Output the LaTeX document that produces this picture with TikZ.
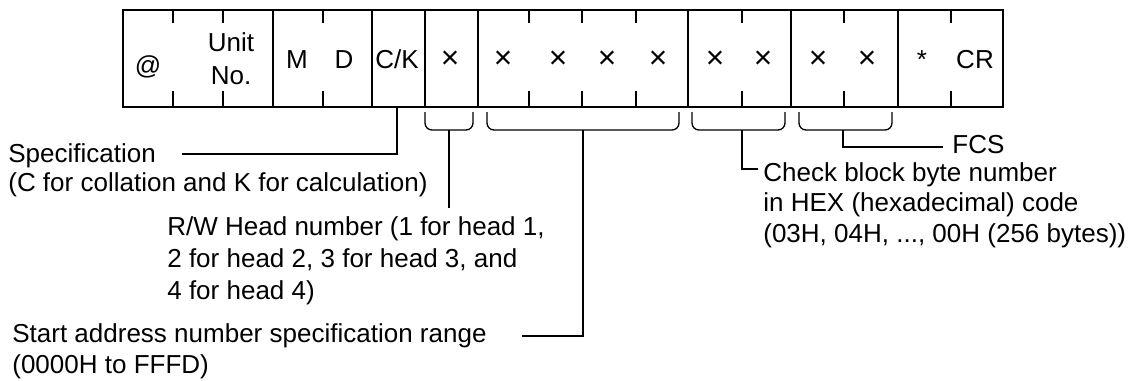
\documentclass[tikz,border=0pt]{standalone}
\usepackage{fontspec}
\setmainfont{Liberation Sans}
\usepackage{tikz}
\usetikzlibrary{positioning}

\begin{document}
\begin{tikzpicture}[x=0.2mm, y=-0.2mm,
    frame/.style = {line width=1.1pt},
    conn/.style = {line width=0.75pt},
    brak/.style = {line width=0.75pt, rounded corners=1.4mm},
    cell/.style = {inner sep=0pt, anchor=base, font=\fontsize{14.8}{18.8}\selectfont},
    note/.style = {inner sep=0pt, anchor=base west, align=left, font=\fontsize{14.8}{#1}\selectfont},
    note/.default = 17.1]
    \useasboundingbox (0,0) rectangle (1132,380);

    % 帧格式
    \draw[frame] (123,10) rectangle (1003,107);
    \foreach \x in {273,372,425,478,688,791,898}
        \draw[frame] (\x,10) -- (\x,107);
    \foreach \x in {173,223,323,529,582,636,742,844,951} {
        \draw[frame] (\x,10) -- (\x,23);
        \draw[frame] (\x,91) -- (\x,107);
    }

    % 帧内字符
    \node[cell] (at) at (148,74) {@};
    \node[cell, anchor=center, align=center] (unit) at (231,59) {Unit\\No.};
    \node[cell] (m) at (297,68) {M};
    \node[cell] (d) at (344,68) {D};
    \node[cell] (ck) at (397,68) {C/K};
    \foreach \x [count=\i] in {450,503,558,607,658,715,763,818,867}
        \node[cell, font=\fontsize{18}{20}\selectfont] (x\i) at (\x,68) {×};
    \node[cell] (ast) at (922,68) {*};
    \node[cell] (cr) at (975,68) {CR};

    % 括号
    \foreach \l/\r in {425/473, 487/679, 692/785, 799/892}
        \draw[brak] (\l,112) -- (\l,130) -- (\r,130) -- (\r,112);

    % 说明文字 (base = 末行基线)
    \node[note=16] (spec) at (8,191) {Specification\\(C for collation and K for calculation)};
    \node[note=18.2] (rwhead) at (167,299) {R/W Head number (1 for head 1,\\2 for head 2, 3 for head 3, and\\4 for head 4)};
    \node[note=17.6] (start) at (12,373) {Start address number specification range\\(0000H to FFFD)};
    \node[note] (fcs) at (952,153) {FCS};
    \node[note] (check) at (763,242) {Check block byte number\\in HEX (hexadecimal) code\\(03H, 04H, ..., 00H (256 bytes))};

    % 引线
    \coordinate (ckfoot) at (397,107);
    \coordinate (specend) at (182,154);
    \coordinate (b1foot) at (449,130);
    \coordinate (rwend) at (449,208);
    \coordinate (b2foot) at (583,130);
    \coordinate (startend) at (522,336);
    \coordinate (b3foot) at (742,130);
    \coordinate (checkend) at (758,169);
    \coordinate (b4foot) at (843,130);
    \coordinate (fcsend) at (943,147);
    \draw[conn] (ckfoot) |- (specend);
    \draw[conn] (b1foot) -- (rwend);
    \draw[conn] (b2foot) |- (startend);
    \draw[conn] (b3foot) |- (checkend);
    \draw[conn] (b4foot) |- (fcsend);
\end{tikzpicture}
\end{document}
